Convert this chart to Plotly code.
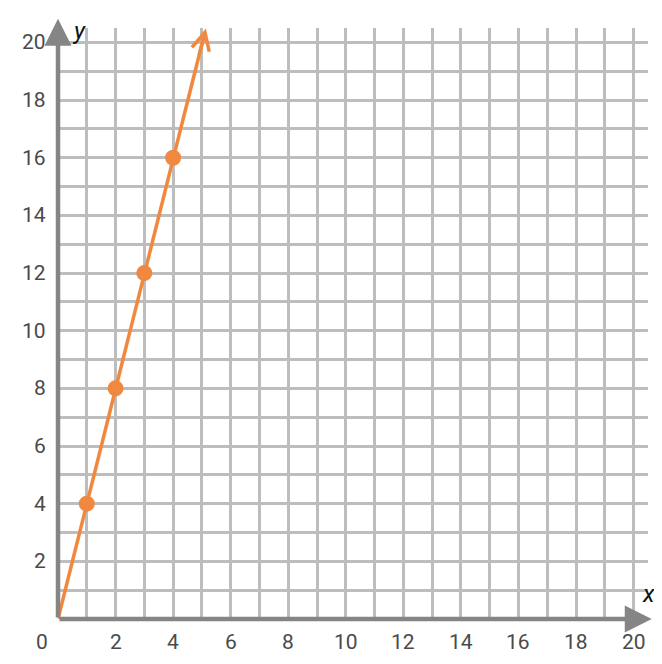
import plotly.graph_objects as go

# Data
x_points = [1, 2, 3, 4]
y_points = [4, 8, 12, 16]
line_x = [0, 5.14]
line_y = [0, 20.5]
x_ticks = [2, 4, 6, 8, 10, 12, 14, 16, 18, 20]
y_ticks = [2, 4, 6, 8, 10, 12, 14, 16, 18, 20]
x_tick_labels = [str(v) for v in x_ticks]
y_tick_labels = [str(v) for v in y_ticks]

ORANGE = "#F0883F"
AXIS = "#858585"
GRID = "#BDBDBD"
LABEL = "#4A4A4A"
FONT = "Roboto"

fig = go.Figure()

fig.add_trace(go.Scatter(x=[line_x[0], line_x[1] - 0.05], y=[line_y[0], line_y[1] - 0.2],
                         mode="lines", line=dict(color=ORANGE, width=3.5),
                         cliponaxis=False, hoverinfo="skip", showlegend=False))
fig.add_trace(go.Scatter(x=x_points, y=y_points, mode="markers",
                         marker=dict(color=ORANGE, size=16),
                         cliponaxis=False, showlegend=False))

annotations = []
# orange arrow head
annotations.append(dict(x=line_x[1], y=line_y[1] - 0.02, ax=line_x[1] - 0.25, ay=line_y[1] - 1.0,
                        xref="x", yref="y", axref="x", ayref="y", text="",
                        showarrow=True, arrowhead=5, arrowsize=1.0, arrowwidth=3.5,
                        arrowcolor=ORANGE, standoff=0, startstandoff=0))
# axes with arrows
annotations.append(dict(x=0, y=20.82, ax=0, ay=0, xref="x", yref="y", axref="x", ayref="y",
                        text="", showarrow=True, arrowhead=2, arrowsize=1.2, arrowwidth=4.5,
                        arrowcolor=AXIS, standoff=0))
annotations.append(dict(x=20.63, y=0, ax=0, ay=0, xref="x", yref="y", axref="x", ayref="y",
                        text="", showarrow=True, arrowhead=2, arrowsize=1.2, arrowwidth=4.5,
                        arrowcolor=AXIS, standoff=0))
# tick labels
for v, t in zip(x_ticks, x_tick_labels):
    annotations.append(dict(x=v, y=0, xref="x", yref="y", text=t, showarrow=False,
                            yshift=-23, font=dict(family=FONT, size=21, color=LABEL)))
for v, t in zip(y_ticks, y_tick_labels):
    annotations.append(dict(x=0, y=v, xref="x", yref="y", text=t, showarrow=False,
                            xanchor="right", xshift=-10, font=dict(family=FONT, size=21, color=LABEL)))
annotations.append(dict(x=0, y=0, xref="x", yref="y", text="0", showarrow=False,
                        xshift=-16, yshift=-23, font=dict(family=FONT, size=21, color=LABEL)))
# axis titles
annotations.append(dict(x=0, y=20.5, xref="x", yref="y", text="<i>y</i>", showarrow=False,
                        xshift=21, yshift=-3, font=dict(family=FONT, size=24, color="#111")))
annotations.append(dict(x=20.5, y=0, xref="x", yref="y", text="<i>x</i>", showarrow=False,
                        xshift=0, yshift=25, font=dict(family=FONT, size=24, color="#111")))

# page body has an 8px margin, compensate so plot lands where the reference has it
fig.update_layout(
    width=654, height=656,
    margin=dict(l=50, r=14, t=20, b=45),
    paper_bgcolor="white", plot_bgcolor="white",
    annotations=annotations,
    xaxis=dict(range=[0, 20.5], tick0=0, dtick=1, showgrid=True, gridcolor=GRID, gridwidth=2.5,
               showticklabels=False, zeroline=False, showline=False, ticks="", fixedrange=True),
    yaxis=dict(range=[0, 20.5], tick0=0, dtick=1, showgrid=True, gridcolor=GRID, gridwidth=2.5,
               showticklabels=False, zeroline=False, showline=False, ticks="", fixedrange=True),
)

fig.write_html("out.html")
